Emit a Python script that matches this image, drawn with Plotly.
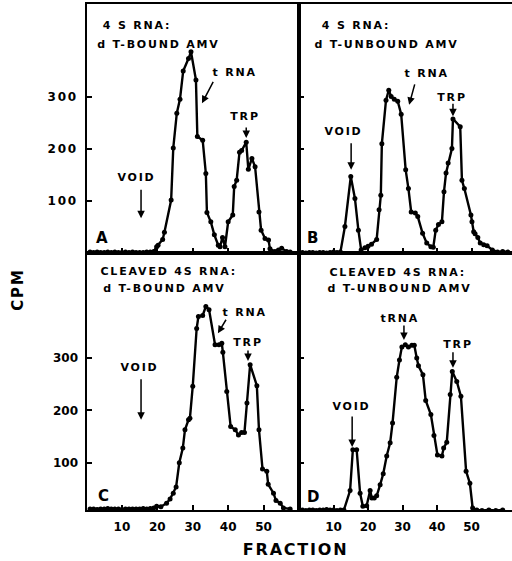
import plotly.graph_objects as go

# ---------------- data (fraction number, CPM) ----------------
A_frac = [1, 2, 3, 4, 5, 6, 7, 8, 9, 10, 11, 12, 13, 14, 15, 16, 17, 18, 19,
          19.8, 20.2, 21.5, 22.0, 23.9, 24.5, 25.5, 26.4, 27.3, 28.8,
          29.5, 30.9, 31.3, 32.8, 33.7, 34.0, 35.1, 36.1, 37.2, 37.7,
          38.4, 39.1, 40.0, 41.3, 41.7, 42.4, 43.2, 43.8, 45.1, 45.7,
          46.7, 47.6, 48.7, 49.3, 50.4, 51.4, 51.8, 53.2, 54.2, 55.1,
          56.5, 57.5]
A_cpm = [2, 1, 2, 1, 1, 2, 1, 2, 1, 1, 2, 1, 2, 1, 1, 1, 2, 2, 3,
         12, 15, 26, 40, 102, 202, 269, 296, 350, 374,
         387, 333, 224, 217, 153, 78, 60, 35, 15, 12,
         30, 12, 60, 73, 128, 140, 194, 197, 213, 161,
         182, 166, 79, 44, 28, 25, 8, 3, 6, 9,
         3, 2]

B_frac = [1, 2, 3, 4, 5, 6, 7, 8, 9, 10, 11, 12,
          13.3, 15.0, 16.2, 17.2, 18.0, 19.1, 20.0, 21.0, 22.5, 23.2,
          23.7, 24.0, 25.2, 26.0, 26.7, 27.6, 28.6, 29.6, 30.9, 31.7,
          32.5, 33.7, 34.4, 35.8, 37.0, 38.2, 38.9, 39.6, 40.4, 41.4,
          42.0, 42.6, 43.2, 44.3, 44.6, 46.7, 47.2, 47.9, 49.8, 50.1,
          50.6, 51.0, 51.8, 52.5, 53.5, 54.5, 56.0, 57.5, 59.0, 60.5]
B_cpm = [1, 0, 1, 1, 0, 1, 1, 0, 1, 2, 1, 2,
         51, 147, 105, 44, 6, 10, 13, 17, 26, 83,
         111, 210, 294, 313, 301, 296, 292, 267, 160, 124,
         79, 77, 70, 38, 19, 12, 11, 44, 55, 60,
         118, 154, 173, 201, 258, 243, 140, 124, 73, 60,
         41, 37, 30, 19, 16, 14, 6, 2, 3, 2]

C_frac = [1, 2, 3, 4, 5, 6, 7, 8, 9, 10, 11, 12, 13, 14, 15, 16, 17, 18, 19,
          19.8, 21.0, 22.6, 23.6, 24.5, 25.3, 26.2, 27.2, 27.8, 28.8,
          29.2, 30.0, 31.1, 31.6, 32.8, 33.7, 34.6, 36.3, 37.4, 38.2,
          38.5, 39.6, 40.7, 42.0, 42.9, 43.8, 44.6, 45.3, 46.2, 48.1,
          48.7, 49.7, 50.9, 51.3, 52.8, 53.5, 54.7, 55.6, 57.5]
C_cpm = [12, 12, 11, 12, 12, 13, 12, 12, 12, 11, 12, 12, 12, 12, 12, 13, 12, 13, 14,
         17, 16, 23, 31, 42, 54, 100, 128, 163, 182,
         185, 246, 356, 379, 381, 398, 392, 325, 325, 328,
         311, 236, 169, 163, 153, 158, 158, 214, 287, 247,
         163, 88, 84, 59, 42, 28, 23, 14, 12]

D_frac = [1, 2, 3, 4, 5, 6, 7, 8, 9, 10, 11, 12, 13,
          14.8, 15.6, 16.7, 17.7, 18.5, 19.6, 20.6, 21.1, 21.8, 22.5,
          23.5, 24.4, 25.4, 26.4, 27.1, 28.3, 29.1, 29.8, 30.8, 31.7,
          32.7, 33.4, 34.1, 34.6, 35.9, 36.7, 38.2, 39.1, 40.1, 41.4,
          41.9, 42.8, 43.8, 44.4, 45.7, 46.9, 48.4, 49.5, 50.3, 51.5,
          53.0, 55.0, 57.0, 59.0]
D_cpm = [10, 9, 10, 10, 9, 10, 10, 11, 10, 10, 9, 10, 10,
         47, 125, 125, 42, 17, 18, 47, 33, 33, 37,
         58, 79, 113, 138, 176, 263, 296, 321, 325, 321,
         324, 324, 300, 285, 268, 219, 192, 152, 115, 113,
         128, 139, 230, 274, 255, 227, 84, 61, 14, 10,
         9, 10, 9, 10]

y_ticks = [100, 200, 300]
y_tick_text = ["100", "200", "300"]
x_ticks = [10, 20, 30, 40, 50]
x_tick_text = ["10", "20", "30", "40", "50"]

panel_titles = {
    "A": ["4 S RNA:", "d T-BOUND AMV"],
    "B": ["4 S RNA:", "d T-UNBOUND AMV"],
    "C": ["CLEAVED 4S RNA:", "d T-BOUND AMV"],
    "D": ["CLEAVED 4S RNA:", "d T-UNBOUND AMV"],
}

# ---------------- figure ----------------
W, H = 512, 561
FONT = "DejaVu Sans"

def px_x(p):
    return p / W

def px_y(p):
    return 1 - p / H

fig = go.Figure()
series = [(A_frac, A_cpm, "x", "y"), (B_frac, B_cpm, "x2", "y2"),
          (C_frac, C_cpm, "x3", "y3"), (D_frac, D_cpm, "x4", "y4")]
for fx, cy, xa, ya in series:
    fig.add_trace(go.Scatter(
        x=fx, y=cy, xaxis=xa, yaxis=ya, mode="lines+markers",
        line=dict(color="black", width=2.4),
        marker=dict(color="black", size=5),
        showlegend=False, hoverinfo="skip"))

left_dom = [px_x(86.5), px_x(299)]
right_dom = [px_x(299), 1.0]
top_dom = [px_y(253), px_y(4)]
bot_dom = [px_y(510), px_y(253)]
top_range = [0, 479]
bot_range = [10, 500]
left_xr = [0, 60]
right_xr = [0, 61.7]

tickfont = dict(family=FONT, size=12, color="black", weight="bold")

def xax(dom, rng, anchor, labels):
    return dict(domain=dom, range=rng, anchor=anchor, tickmode="array",
                tickvals=x_ticks, ticktext=x_tick_text, ticks="inside",
                ticklen=5, tickwidth=1.5, tickcolor="black",
                showticklabels=labels, tickfont=tickfont, ticklabelstandoff=4,
                showline=True, linecolor="black", linewidth=2.2, mirror=True,
                showgrid=False, zeroline=False, automargin=False, fixedrange=True)

def yax(dom, rng, anchor, labels, mirror):
    return dict(domain=dom, range=rng, anchor=anchor, tickmode="array",
                tickvals=y_ticks, ticktext=y_tick_text, ticks="inside",
                ticklen=5, tickwidth=1.5, tickcolor="black",
                showticklabels=labels, tickfont=tickfont, ticklabelstandoff=4,
                showline=True, linecolor="black", linewidth=2.2, mirror=mirror,
                showgrid=False, zeroline=False, automargin=False, fixedrange=True)

fig.update_layout(
    width=W, height=H,
    margin=dict(l=0, r=0, t=0, b=0),
    paper_bgcolor="white", plot_bgcolor="white",
    xaxis=xax(left_dom, left_xr, "y", False),
    yaxis=yax(top_dom, top_range, "x", True, True),
    xaxis2=xax(right_dom, right_xr, "y2", False),
    yaxis2=yax(top_dom, top_range, "x2", False, False),
    xaxis3=xax(left_dom, left_xr, "y3", True),
    yaxis3=yax(bot_dom, bot_range, "x3", True, True),
    xaxis4=xax(right_dom, right_xr, "y4", True),
    yaxis4=yax(bot_dom, bot_range, "x4", False, False),
)

ann = []
tfont = dict(family=FONT, size=11, color="black", weight="bold")

def text(xr, yr, x, y, s, anchor="center", font=tfont):
    ann.append(dict(xref=xr, yref=yr, x=x, y=y, text=s, showarrow=False,
                    xanchor=anchor, yanchor="middle", font=font))

def arrow(xr, yr, x, y, ax, ay):
    ann.append(dict(xref=xr, yref=yr, x=x, y=y, text="", showarrow=True,
                    ax=ax, ay=ay, axref="pixel", ayref="pixel",
                    arrowhead=2, arrowsize=1, arrowwidth=1.5,
                    arrowcolor="black", standoff=0, startstandoff=0))

lfont = dict(family=FONT, size=15, color="black", weight="bold")

# Panel A
text("x", "y", 6.1, 438, panel_titles["A"][0], "left")
text("x", "y", 5.8, 402, panel_titles["A"][1], "left")
text("x", "y", 41.9, 348, "t RNA")
arrow("x", "y", 32.6, 288, 12, -23)
text("x", "y", 44.8, 262, "TRP")
arrow("x", "y", 45.1, 221, 0, -12)
text("x", "y", 14.0, 146, "VOID")
arrow("x", "y", 15.4, 67, 0, -30)
text("x", "y", 4.7, 29, "A", "center", lfont)

# Panel B
text("x2", "y2", 8.1, 438, panel_titles["B"][0], "left")
text("x2", "y2", 7.8, 402, panel_titles["B"][1], "left")
text("x2", "y2", 37.1, 346, "t RNA")
arrow("x2", "y2", 31.9, 285, 6, -22)
text("x2", "y2", 44.3, 300, "TRP")
arrow("x2", "y2", 44.6, 263, 0, -14)
text("x2", "y2", 12.8, 233, "VOID")
arrow("x2", "y2", 15.1, 160, 0, -28)
text("x2", "y2", 4.3, 29, "B", "center", lfont)

# Panel C
text("x3", "y3", 7.2, 464, panel_titles["C"][0], "left")
text("x3", "y3", 7.5, 433, panel_titles["C"][1], "left")
text("x3", "y3", 44.8, 386, "t RNA")
arrow("x3", "y3", 37.1, 347, 9, -15)
text("x3", "y3", 45.6, 330, "TRP")
arrow("x3", "y3", 45.6, 294, 0, -12)
text("x3", "y3", 15.1, 281, "VOID")
arrow("x3", "y3", 15.4, 182, 0, -42)
text("x3", "y3", 5.2, 37, "C", "center", lfont)

# Panel D
text("x4", "y4", 28.7, 462, panel_titles["D"][0])
text("x4", "y4", 29.3, 433, panel_titles["D"][1])
text("x4", "y4", 29.3, 376, "tRNA")
arrow("x4", "y4", 30.4, 334, 0, -16)
text("x4", "y4", 46.1, 326, "TRP")
arrow("x4", "y4", 44.6, 281, 0, -17)
text("x4", "y4", 15.1, 208, "VOID")
arrow("x4", "y4", 15.4, 130, 0, -32)
text("x4", "y4", 4.3, 35, "D", "center", lfont)

# axis titles
ann.append(dict(xref="paper", yref="paper", x=px_x(18), y=px_y(290), text="CPM",
                showarrow=False, textangle=-90, xanchor="center", yanchor="middle",
                font=dict(family=FONT, size=15, color="black", weight="bold")))
ann.append(dict(xref="paper", yref="paper", x=px_x(295), y=px_y(549), text="FRACTION",
                showarrow=False, xanchor="center", yanchor="middle",
                font=dict(family=FONT, size=16, color="black", weight="bold")))

fig.update_layout(annotations=ann)

post = """
document.body.style.margin = '0px';
document.body.style.overflow = 'hidden';
document.querySelectorAll('.annotation-text, .xtick text, .ytick text').forEach(function(t){
  t.style.letterSpacing = '1.8px';
});
"""
fig.write_html("out.html", post_script=post, config={"displayModeBar": False})
